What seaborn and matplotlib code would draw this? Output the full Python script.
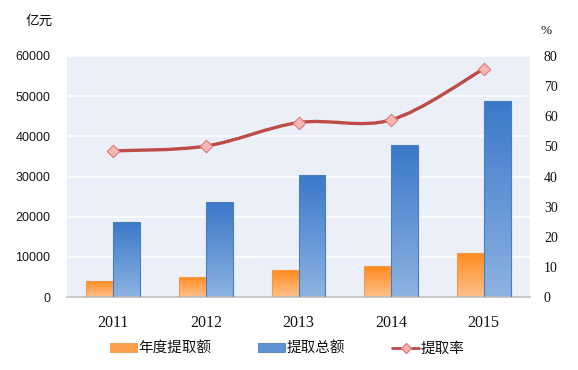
import numpy as np
import pandas as pd
import matplotlib
matplotlib.use("Agg")
import matplotlib.pyplot as plt
import seaborn as sns
from matplotlib.path import Path
from matplotlib.patches import PathPatch, Patch
from matplotlib.lines import Line2D
from matplotlib.colors import LinearSegmentedColormap

years = ["2011", "2012", "2013", "2014", "2015"]
annual = [4000, 5000, 6700, 7700, 11000]
total = [18700, 23600, 30400, 37800, 48800]
rate = [48.5, 50.1, 57.9, 58.8, 75.7]
series_names = ["年度提取额", "提取总额", "提取率"]

sns.set_theme(style="white")
plt.rcParams['font.family'] = ['Noto Sans CJK SC', 'DejaVu Sans']

df = pd.DataFrame({
    "year": years * 2,
    "value": annual + total,
    "series": [series_names[0]] * 5 + [series_names[1]] * 5,
})

fig = plt.figure(figsize=(5.78, 3.70), dpi=100)
ax = fig.add_axes([67/578, 1-297/370, (530-67)/578, (297-56)/370])
ax.set_facecolor("#EBEFF8")

orange_top, orange_bot = "#FF8A1C", "#FDC28E"
blue_top, blue_bot = "#3A78C8", "#8DB3E2"

sns.barplot(data=df, x="year", y="value", hue="series", ax=ax,
            palette=[orange_top, blue_top], width=0.58, legend=False,
            saturation=1, zorder=2)

ax.set_ylim(0, 60000)
ax.set_xlim(-0.5, 4.5)
ax.set_yticks(np.arange(0, 60001, 10000))
ax.grid(axis="y", color="white", lw=1.1, zorder=1)
ax.set_axisbelow(True)

# gradient fill on bars
cm_o = LinearSegmentedColormap.from_list("o", [orange_bot, orange_top])
cm_b = LinearSegmentedColormap.from_list("b", [blue_bot, blue_top])
grad = np.linspace(0, 1, 256).reshape(-1, 1)
for i, p in enumerate(ax.patches):
    x0, y0 = p.get_x(), p.get_y()
    w, h = p.get_width(), p.get_height()
    if h <= 0:
        continue
    is_orange = p.get_facecolor()[0] > 0.9
    cmap = cm_o if is_orange else cm_b
    im = ax.imshow(grad, cmap=cmap, aspect="auto", origin="lower",
                   extent=[x0, x0 + w, y0, y0 + h], zorder=2.5)
    im.set_clip_path(p)
    p.set_facecolor("none")
    p.set_edgecolor("#F59A4A" if is_orange else "#4A7EC0")
    p.set_linewidth(0.8)
    p.set_zorder(3)
ax.set_xlim(-0.5, 4.5)
ax.set_ylim(0, 60000)

for s in ["top", "left", "right"]:
    ax.spines[s].set_visible(False)
ax.spines["bottom"].set_color("#BFBFBF")
ax.spines["bottom"].set_linewidth(1.2)

ax.set_xlabel("")
ax.set_ylabel("")
ax.tick_params(axis="x", length=0, pad=13)
ax.set_xticks(range(5))
ax.set_xticklabels(years, fontfamily="Liberation Serif", fontsize=11.5, color="#111111")
ax.set_xticks(np.arange(-0.5, 5, 1), minor=True)
ax.tick_params(axis="x", which="minor", direction="in", length=4, color="#BFBFBF", width=1.2)
ax.tick_params(axis="y", length=0, pad=12)
for t in ax.get_yticklabels():
    t.set_fontfamily("Liberation Sans")
    t.set_fontsize(9)
    t.set_color("#1A1A1A")

# secondary axis
ax2 = ax.twinx()
ax2.set_ylim(0, 80)
ax2.set_yticks(np.arange(0, 81, 10))
for s in ["top", "left", "right", "bottom"]:
    ax2.spines[s].set_visible(False)
ax2.tick_params(axis="y", length=0, pad=10)
for t in ax2.get_yticklabels():
    t.set_fontfamily("Liberation Serif")
    t.set_fontsize(10)
    t.set_color("#111111")
ax2.grid(False)

# smooth line (Bezier through data points)
xs = np.arange(len(rate), dtype=float)
ys = np.array(rate, dtype=float)
pts = np.column_stack([xs, ys])
verts = [tuple(pts[0])]
codes = [Path.MOVETO]
n = len(pts)
for i in range(n - 1):
    p0 = pts[i - 1] if i > 0 else pts[i]
    p1 = pts[i]
    p2 = pts[i + 1]
    p3 = pts[i + 2] if i + 2 < n else pts[i + 1]
    c1 = p1 + (p2 - p0) / 6.0
    c2 = p2 - (p3 - p1) / 6.0
    verts += [tuple(c1), tuple(c2), tuple(p2)]
    codes += [Path.CURVE4] * 3
line_color = "#BE4B48"
ax2.add_patch(PathPatch(Path(verts, codes), facecolor="none", edgecolor=line_color,
                        lw=2.4, zorder=4, capstyle="round"))
sns.scatterplot(x=xs, y=ys, ax=ax2, marker="D", s=40, color="#F6B7B5",
                edgecolor="#E07C79", linewidth=0.8, zorder=5, legend=False)
ax2.set_xlim(-0.5, 4.5)

# unit labels
fig.text(39/578, 1-21/370, "亿元", ha="center", va="center", fontsize=9.8, color="#111111")
fig.text(546/578, 1-31/370, "%", ha="center", va="center", fontsize=9.5,
         fontfamily="Liberation Serif", color="#111111")

handles = [
    Patch(facecolor="#FE9F4E", edgecolor="#F59A4A", lw=0.6),
    Patch(facecolor="#5F92D3", edgecolor="#4A7EC0", lw=0.6),
    Line2D([0], [0], color=line_color, lw=2, marker="D", markersize=5.5,
           markerfacecolor="#F6B7B5", markeredgecolor="#E07C79"),
]
fig.legend(handles, series_names, loc="center", bbox_to_anchor=(0.497, 0.058),
           ncol=3, frameon=False, fontsize=10.5, handlelength=1.85,
           handleheight=0.55, handletextpad=0.1, columnspacing=3.2,
           labelcolor="#111111")

fig.savefig("out.png", dpi=100)
